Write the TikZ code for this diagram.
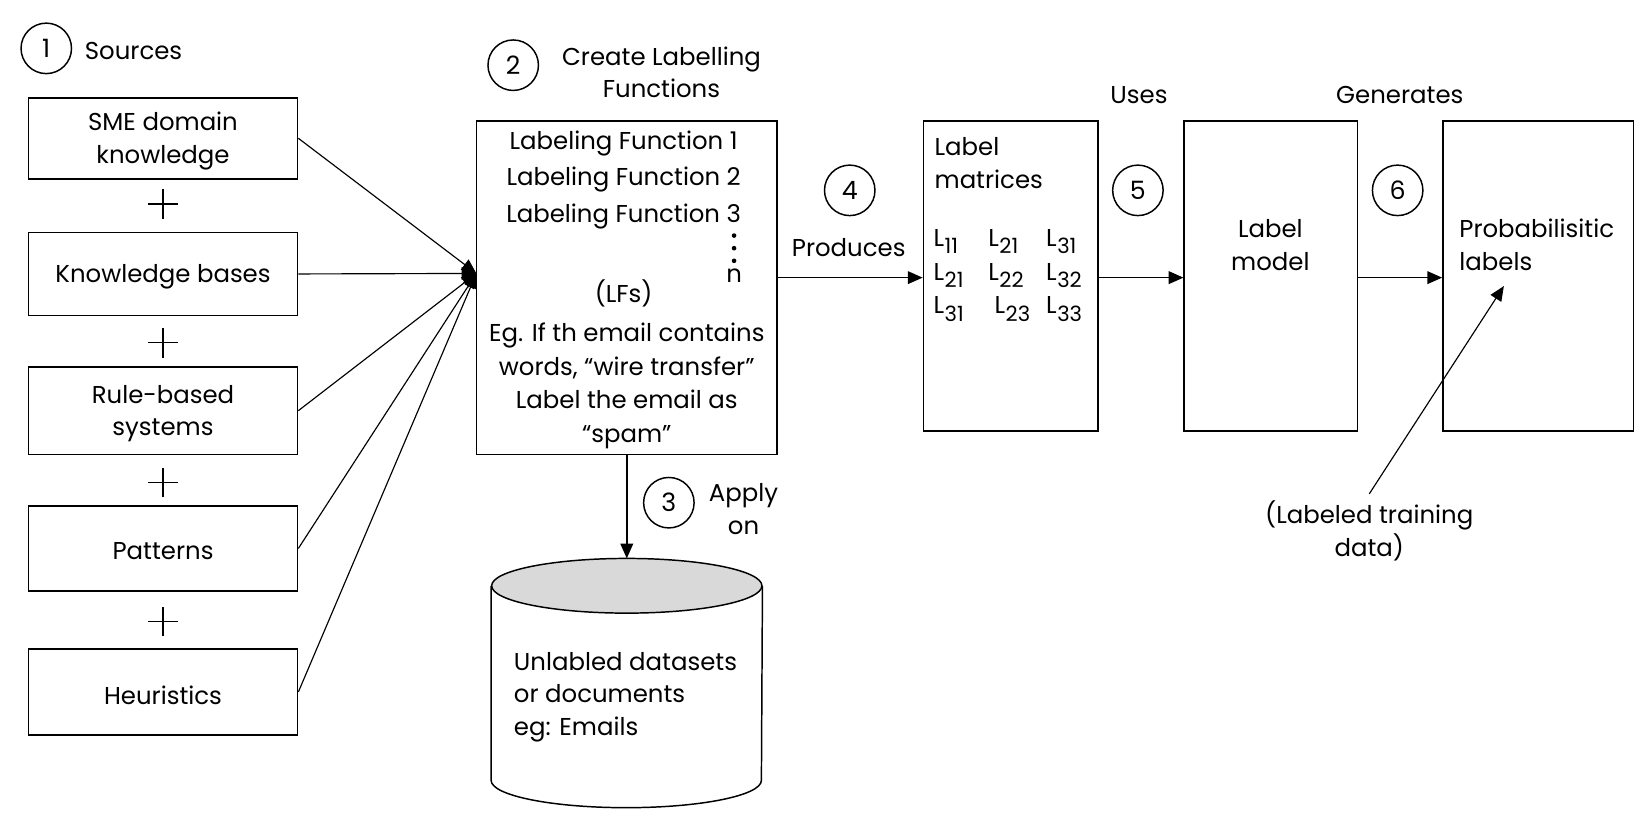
\documentclass[tikz,border=0pt]{standalone}
\usepackage{fontspec}
\setmainfont{Poppins}
\usetikzlibrary{arrows.meta}
\newcommand{\Lsub}[1]{L\kern0.3pt\raisebox{-0.55ex}{\fontsize{10}{10}\selectfont #1}}
\begin{document}
\begin{tikzpicture}[x=0.5pt,y=-0.5pt,
  font=\fontsize{11.6}{15.5}\selectfont,
  line width=0.7pt,
  box/.style={draw,rectangle,inner sep=0pt},
  num/.style={draw,circle,minimum size=24pt,inner sep=0pt,font=\fontsize{12}{14}\selectfont},
  lbl/.style={inner sep=0pt,align=center,yshift=-1.4pt},
  arr/.style={-{Triangle[length=7pt,width=6pt]}}
]
\useasboundingbox (0,0) rectangle (1568,786);
% numbered circles and headings
\node[num] (c1) at (44,46) {1};
\node[lbl,anchor=west] (t1) at (80,46) {Sources};
\node[num] (c2) at (488,62) {2};
\node[lbl] (t2) at (629,66) {Create Labelling\\Functions};
% left source boxes
\node[box,minimum width=128pt,minimum height=38.5pt] (s1) at (155,131.5) {};
\node[box,minimum width=128pt,minimum height=39.5pt] (s2) at (155,260.5) {};
\node[box,minimum width=128pt,minimum height=41.5pt] (s3) at (155,390.5) {};
\node[box,minimum width=128pt,minimum height=40.5pt] (s4) at (155,521.5) {};
\node[box,minimum width=128pt,minimum height=41pt] (s5) at (155,658) {};
\node[lbl] (s1t) at (s1) {SME domain\\knowledge};
\node[lbl] (s2t) at (s2) {Knowledge bases};
\node[lbl] (s3t) at (s3) {Rule-based\\systems};
\node[lbl] (s4t) at (s4) {Patterns};
\node[lbl] (s5t) at (s5) {Heuristics};
\foreach \y/\n in {194/p1,326/p2,459/p3,591/p4}{
  \coordinate (\n) at (155,\y);
  \draw[line width=0.6pt] ([xshift=-7pt]\n) -- ([xshift=7pt]\n) ([yshift=-7pt]\n) -- ([yshift=7pt]\n);
}
% labeling functions box
\node[box,minimum width=143pt,minimum height=158.5pt] (lf) at (596,273.5) {};
\node[lbl] (lf1) at (593,134) {Labeling Function 1};
\node[lbl] (lf2) at (593,168) {Labeling Function 2};
\node[lbl] (lf3) at (593,203) {Labeling Function 3};
\foreach \y in {224,236,248}{\fill (698,\y) circle (1.1pt);}
\node[lbl] (lfn) at (698,259) {n};
\node[lbl] (lfs) at (593,276) {(LFs)};
\node[lbl,font=\fontsize{11.6}{16}\selectfont] (lfe) at (596,364) {Eg. If th email contains\\words, “wire transfer”\\Label the email as\\“spam”};
\coordinate (lfin) at (453,260);
\foreach \s in {s1,s2,s3,s4,s5}{\draw[arr,line width=0.55pt] (\s.east) -- (lfin);}
% cylinder (database)
\coordinate (dbtop) at (596,531);
\fill[black!15] (596,557) ellipse [x radius=128.5, y radius=26];
\draw (467,557) -- (467,742) arc [start angle=180, end angle=0, x radius=128.5, y radius=26] -- (725,557);
\draw (596,557) ellipse [x radius=128.5, y radius=26];
\node[lbl,align=left,anchor=west] (dbt) at (488,660) {Unlabled datasets\\or documents\\eg: Emails};
\draw[arr] (lf.south) -- (dbtop);
\node[num] (c3) at (636,478) {3};
\node[lbl] (t3) at (707,481) {Apply\\on};
% label matrices
\node[box,minimum width=83pt,minimum height=147.5pt] (lm) at (961,262.5) {};
\node[lbl,align=left,anchor=west] (lmt) at (888,152.5) {Label\\matrices};
\node[lbl,anchor=west] (m11) at (887,227) {\Lsub{11}};
\node[lbl,anchor=west] (m12) at (939,227) {\Lsub{21}};
\node[lbl,anchor=west] (m13) at (994,227) {\Lsub{31}};
\node[lbl,anchor=west] (m21) at (887,259) {\Lsub{21}};
\node[lbl,anchor=west] (m22) at (939,259) {\Lsub{22}};
\node[lbl,anchor=west] (m23) at (994,259) {\Lsub{32}};
\node[lbl,anchor=west] (m31) at (887,291) {\Lsub{31}};
\node[lbl,anchor=west] (m32) at (945,291) {\Lsub{23}};
\node[lbl,anchor=west] (m33) at (994,291) {\Lsub{33}};
\draw[arr] (lf.east |- 0,264) coordinate (a4s) -- (lm.west |- a4s);
\node[num] (c4) at (808,181) {4};
\node[lbl] (t4) at (807,233) {Produces};
% label model
\node[box,minimum width=82.5pt,minimum height=147.5pt] (lmod) at (1208.5,262.5) {};
\node[lbl] (lmodt) at (1208,230) {Label\\model};
\draw[arr] (lm.east |- 0,264) coordinate (a5s) -- (lmod.west |- a5s);
\node[num] (c5) at (1082,181) {5};
\node[lbl] (t5) at (1083,88) {Uses};
% probabilistic labels
\node[box,minimum width=90.5pt,minimum height=147.5pt] (pl) at (1462.5,262.5) {};
\node[lbl,align=left,anchor=west] (plt) at (1387,230) {Probabilisitic\\labels};
\draw[arr] (lmod.east |- 0,264) coordinate (a6s) -- (pl.west |- a6s);
\node[num] (c6) at (1329,181) {6};
\node[lbl] (t6) at (1331,88) {Generates};
% labeled training data
\node[lbl] (ltd) at (1302,502) {(Labeled training\\data)};
\coordinate (ltdtip) at (1430,272);
\draw[arr,line width=0.55pt] (ltd.north) ++(0,-6) -- (ltdtip);
\end{tikzpicture}
\end{document}
